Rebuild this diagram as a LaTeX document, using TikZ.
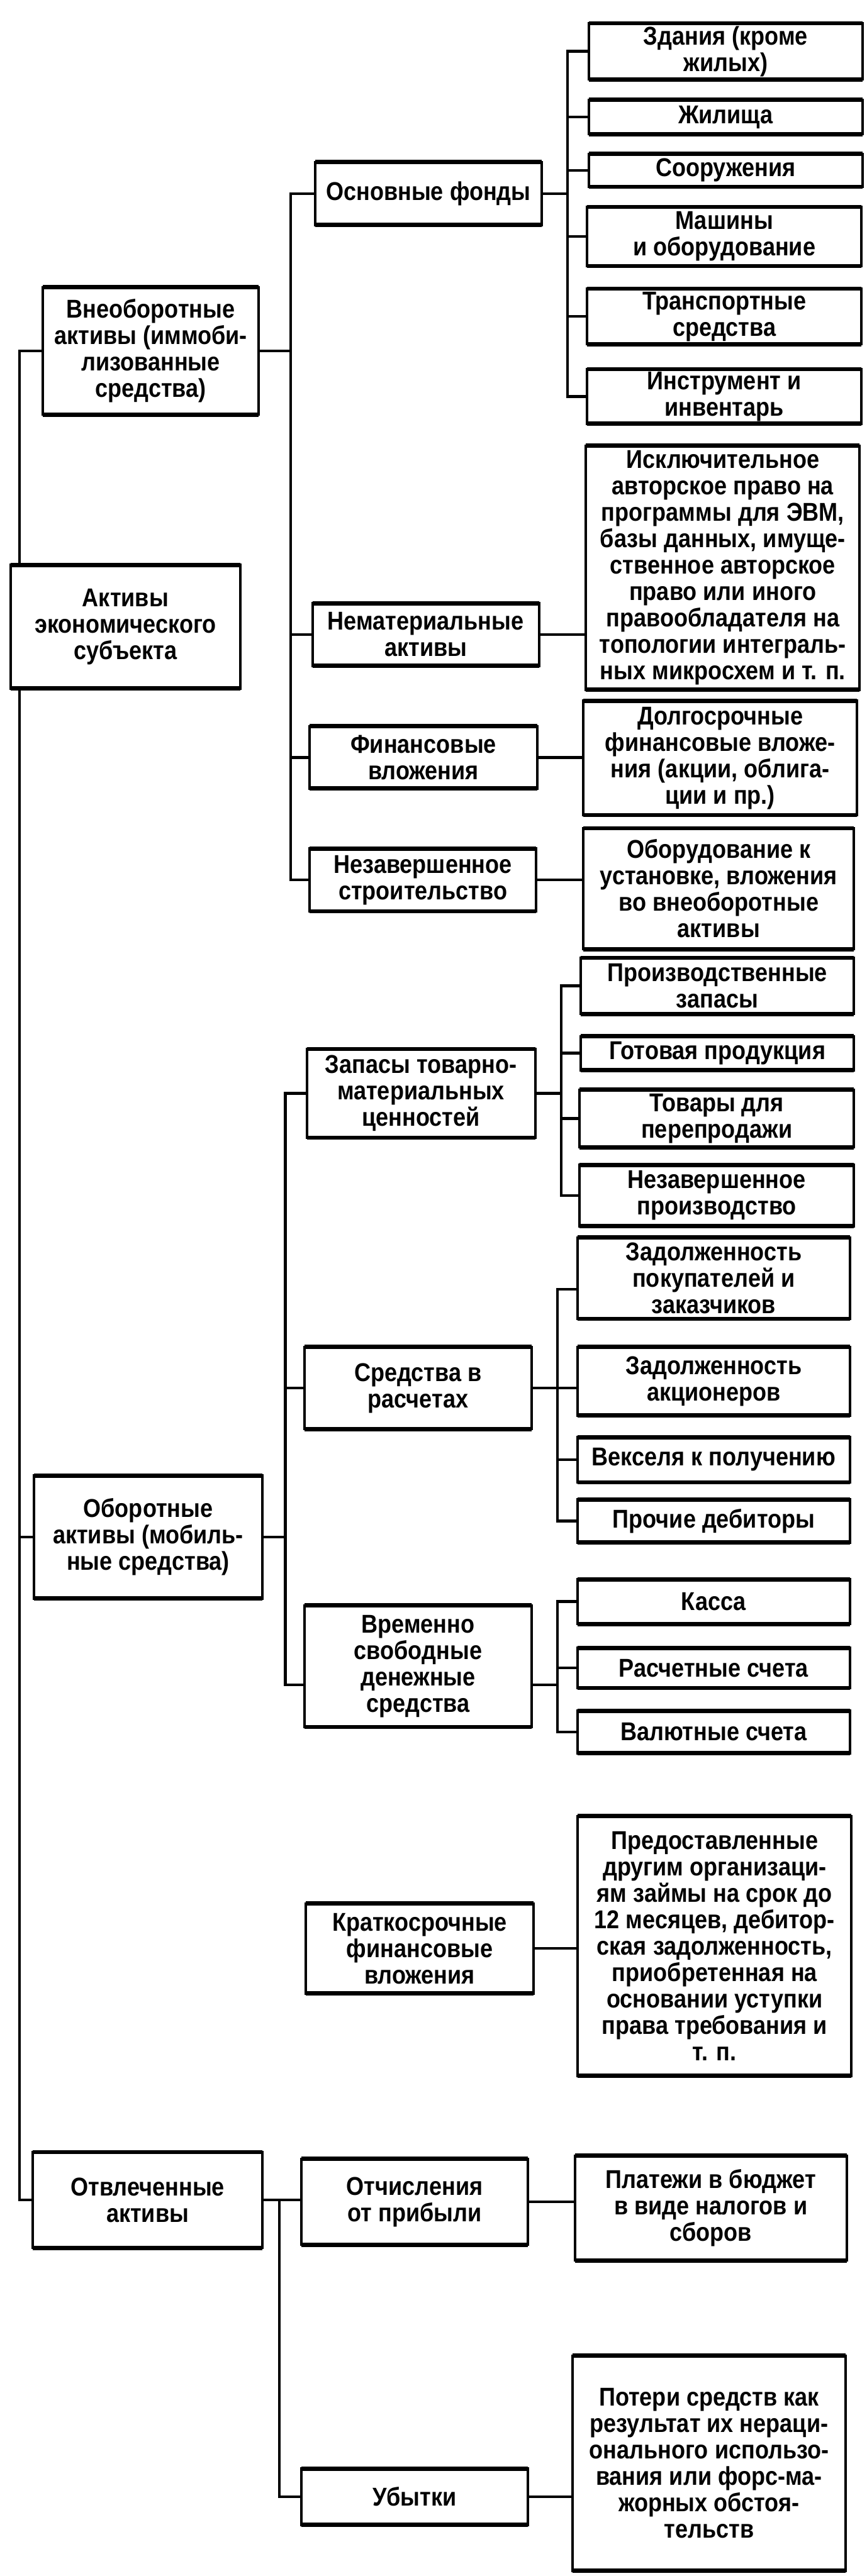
\documentclass[tikz,border=0pt]{standalone}
\usepackage{fontspec}
\setmainfont{Liberation Sans}[FakeStretch=0.88]
\usepackage{tikz}

\begin{document}
\begin{tikzpicture}[x=1cm, y=1cm,
  box/.style={draw, line width=2pt, outer sep=0pt, inner xsep=1pt, inner ysep=2pt,
    align=center, font=\bfseries\fontsize{20.5}{21}\selectfont,
    append after command={\pgfextra{\let\boxnode\tikzlastnode}
      (\boxnode.north west) edge[line width=3.4pt] (\boxnode.north east)
      (\boxnode.south west) edge[line width=3.4pt] (\boxnode.south east)}},
  conn/.style={line width=2.2pt}]
\useasboundingbox (0,0) rectangle (24.22,-72);

% --- Left column: the whole and its three parts ---
\node[box, minimum width=6.41cm, minimum height=3.45cm] (root) at (3.505,-17.515) {Активы\\экономического\\субъекта};
\node[box, minimum width=6.02cm, minimum height=3.56cm] (vneob) at (4.21,-9.81) {Внеоборотные\\активы (иммоби-\\лизованные\\средства)};
\node[box, minimum width=6.38cm, minimum height=3.44cm] (oborot) at (4.14,-42.96) {Оборотные\\активы (мобиль-\\ные средства)};
\node[box, minimum width=6.41cm, minimum height=2.68cm] (otvl) at (4.125,-61.49) {Отвлеченные\\активы};
\coordinate (busM) at (0.55,0);
\draw[conn] (vneob.west) -- (vneob.west -| busM) -- (root.north -| busM);
\draw[conn] (root.south -| busM) -- (otvl.west -| busM) -- (otvl.west);
\draw[conn] (oborot.west) -- (oborot.west -| busM);

% --- Non-current assets ---
\node[box, minimum width=6.34cm, minimum height=1.76cm] (osn) at (11.97,-5.41) {Основные фонды};
\node[box, minimum width=6.33cm, minimum height=1.75cm] (nemat) at (11.895,-17.735) {Нематериальные\\активы};
\node[box, minimum width=6.36cm, minimum height=1.74cm] (finv) at (11.83,-21.17) {Финансовые\\вложения};
\node[box, minimum width=6.33cm, minimum height=1.75cm] (nezstr) at (11.815,-24.595) {Незавершенное\\строительство};
\coordinate (busB) at (8.12,0);
\draw[conn] (osn.west) -- (osn.west -| busB) -- (nezstr.west -| busB) -- (nezstr.west);
\draw[conn] (vneob.east) -- (vneob.east -| busB);
\foreach \n in {nemat,finv} \draw[conn] (\n.west) -- (\n.west -| busB);

% fixed assets
\node[box, minimum width=7.65cm, minimum height=1.57cm] (zdan) at (20.275,-1.435) {Здания (кроме\\жилых)};
\node[box, minimum width=7.65cm, minimum height=0.96cm] (zhil) at (20.275,-3.27) {Жилища};
\node[box, minimum width=7.65cm, minimum height=0.92cm] (soor) at (20.275,-4.76) {Сооружения};
\node[box, minimum width=7.67cm, minimum height=1.65cm] (mash) at (20.235,-6.61) {Машины\\и оборудование};
\node[box, minimum width=7.67cm, minimum height=1.55cm] (trans) at (20.235,-8.845) {Транспортные\\средства};
\node[box, minimum width=7.67cm, minimum height=1.52cm] (instr) at (20.235,-11.08) {Инструмент и\\инвентарь};
\coordinate (busA) at (15.86,0);
\draw[conn] (zdan.west) -- (zdan.west -| busA) -- (instr.west -| busA) -- (instr.west);
\foreach \n in {zhil,soor,mash,trans} \draw[conn] (\n.west) -- (\n.west -| busA);
\draw[conn] (osn.east) -- (osn.east -| busA);

% right boxes of the other items
\node[box, minimum width=7.65cm, minimum height=6.82cm] (iskl) at (20.195,-15.87) {Исключительное\\авторское право на\\программы для ЭВМ,\\базы данных, имуще-\\ственное авторское\\право или иного\\правообладателя на\\топологии интеграль-\\ных микросхем и т. п.};
\node[box, minimum width=7.64cm, minimum height=3.19cm] (dolg) at (20.12,-21.185) {Долгосрочные\\финансовые вложе-\\ния (акции, облига-\\ции и пр.)};
\node[box, minimum width=7.56cm, minimum height=3.38cm] (oborud) at (20.08,-24.84) {Оборудование к\\установке, вложения\\во внеоборотные\\активы};
\draw[conn] (nemat.east) -- (nemat.east -| iskl.west);
\draw[conn] (finv.east) -- (finv.east -| dolg.west);
\draw[conn] (nezstr.east) -- (nezstr.east -| oborud.west);

% --- Current assets ---
\node[box, minimum width=6.38cm, minimum height=2.48cm] (zapasy) at (11.76,-30.56) {Запасы товарно-\\материальных\\ценностей};
\node[box, minimum width=6.36cm, minimum height=2.29cm] (sredrasch) at (11.68,-38.795) {Средства в\\расчетах};
\node[box, minimum width=6.36cm, minimum height=3.40cm] (vremen) at (11.68,-46.57) {Временно\\свободные\\денежные\\средства};
\node[box, minimum width=6.37cm, minimum height=2.52cm] (kratk) at (11.725,-54.46) {Краткосрочные\\финансовые\\вложения};
\coordinate (busD) at (7.97,0);
\coordinate (vremenL) at ([yshift=-0.52cm]vremen.west);
\draw[conn] (zapasy.west) -- (zapasy.west -| busD) -- (vremenL -| busD) -- (vremenL);
\draw[conn] (oborot.east) -- (oborot.east -| busD);
\draw[conn] (sredrasch.west) -- (sredrasch.west -| busD);

% inventories
\node[box, minimum width=7.64cm, minimum height=1.57cm] (proizv) at (20.04,-27.555) {Производственные\\запасы};
\node[box, minimum width=7.64cm, minimum height=0.95cm] (gotov) at (20.04,-29.435) {Готовая продукция};
\node[box, minimum width=7.67cm, minimum height=1.61cm] (tovary) at (20.025,-31.265) {Товары для\\перепродажи};
\node[box, minimum width=7.67cm, minimum height=1.71cm] (nezpr) at (20.025,-33.415) {Незавершенное\\производство};
\coordinate (busC) at (15.68,0);
\draw[conn] (proizv.west) -- (proizv.west -| busC) -- (nezpr.west -| busC) -- (nezpr.west);
\foreach \n in {gotov,tovary} \draw[conn] (\n.west) -- (\n.west -| busC);
\draw[conn] (zapasy.east) -- (zapasy.east -| busC);

% receivables
\node[box, minimum width=7.60cm, minimum height=2.27cm] (zadpok) at (19.94,-35.725) {Задолженность\\покупателей и\\заказчиков};
\node[box, minimum width=7.60cm, minimum height=1.91cm] (zadakc) at (19.94,-38.605) {Задолженность\\акционеров};
\node[box, minimum width=7.60cm, minimum height=1.26cm] (veks) at (19.94,-40.80) {Векселя к получению};
\node[box, minimum width=7.60cm, minimum height=1.20cm] (proch) at (19.94,-42.51) {Прочие дебиторы};
\coordinate (busE) at (15.57,0);
\coordinate (zadpokL) at ([yshift=-0.305cm]zadpok.west);
\draw[conn] (zadpokL) -- (zadpokL -| busE) -- (proch.west -| busE) -- (proch.west);
\draw[conn] (sredrasch.east) -- (sredrasch.east -| zadakc.west);
\draw[conn] (veks.west) -- (veks.west -| busE);

% cash
\node[box, minimum width=7.60cm, minimum height=1.25cm] (kassa) at (19.94,-44.765) {Касса};
\node[box, minimum width=7.60cm, minimum height=1.12cm] (raschsch) at (19.94,-46.62) {Расчетные счета};
\node[box, minimum width=7.60cm, minimum height=1.18cm] (valut) at (19.94,-48.41) {Валютные счета};
\coordinate (busF) at (15.57,0);
\coordinate (vremenR) at ([yshift=-0.52cm]vremen.east);
\draw[conn] (kassa.west) -- (kassa.west -| busF) -- (valut.west -| busF) -- (valut.west);
\draw[conn] (vremenR) -- (vremenR -| busF);
\draw[conn] (raschsch.west) -- (raschsch.west -| busF);

% short-term investments
\node[box, minimum width=7.65cm, minimum height=7.26cm] (predost) at (19.965,-54.39) {Предоставленные\\другим организаци-\\ям займы на срок до\\12 месяцев, дебитор-\\ская задолженность,\\приобретенная на\\основании уступки\\права требования и\\т. п.};
\draw[conn] (kratk.east) -- (kratk.east -| predost.west);

% --- Diverted assets ---
\node[box, minimum width=6.33cm, minimum height=2.40cm] (otchisl) at (11.585,-61.54) {Отчисления\\от прибыли};
\node[box, minimum width=6.33cm, minimum height=1.57cm] (ubyt) at (11.585,-69.785) {Убытки};
\node[box, minimum width=7.60cm, minimum height=2.93cm] (platezh) at (19.86,-61.715) {Платежи в бюджет\\в виде налогов и\\сборов};
\node[box, minimum width=7.64cm, minimum height=6.01cm] (poteri) at (19.81,-68.845) {Потери средств как\\результат их нераци-\\онального использо-\\вания или форс-ма-\\жорных обстоя-\\тельств};
\coordinate (busG) at (7.80,0);
\draw[conn] (otvl.east) -- (otvl.east -| otchisl.west);
\draw[conn] (otvl.east -| busG) -- (ubyt.west -| busG) -- (ubyt.west);
\draw[conn] (otchisl.east) -- (otchisl.east -| platezh.west);
\draw[conn] (ubyt.east) -- (ubyt.east -| poteri.west);
\end{tikzpicture}
\end{document}
